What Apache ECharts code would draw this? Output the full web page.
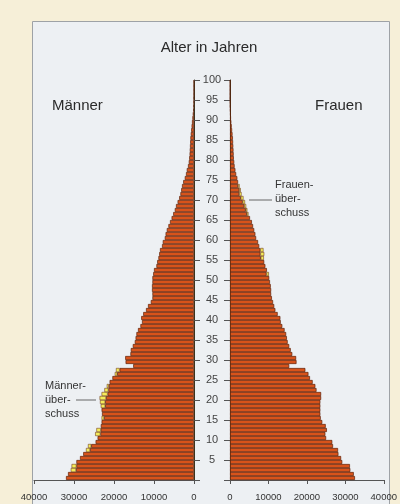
<!DOCTYPE html>
<html>
<head>
<meta charset="utf-8">
<script src="https://cdn.jsdelivr.net/npm/echarts@6/dist/echarts.min.js"></script>
<style>
html,body{margin:0;padding:0;background:#f6efd8;}
#pyramid{width:400px;height:504px;}
</style>
</head>
<body>
<div id="pyramid"></div>
<script>
// Altersjahre 0..99
var ages = [];
for (var i = 0; i < 100; i++) ages.push(String(i));

// Männer je Altersjahr (Balkenlänge gesamt)
var maenner = [
  32000,31500,30800,30600,29400,28500,27700,27000,26500,24600,
  24100,24700,24400,23300,23100,23100,23000,23100,23300,23500,
  23600,23100,22400,21800,21100,20400,19800,19500,15200,17100,
  17200,15900,15800,15300,14800,14600,14400,14000,13400,13000,
  13200,12700,12000,11500,10800,10400,10400,10500,10500,10400,
  10400,10200,10000,9400,9200,8900,8700,8500,8000,7800,
  7300,7100,6800,6400,6000,5600,5200,4800,4500,4100,
  3700,3400,3200,3000,2700,2300,2000,1800,1500,1300,
  1200,1100,1050,1000,950,900,800,700,600,500,
  400,300,200,150,100,80,50,50,50,50
];
// Frauen je Altersjahr (Balkenlänge gesamt)
var frauen = [
  32500,32200,31300,31200,29200,28900,28200,28100,26800,26600,
  25000,24800,25200,24900,24000,23600,23500,23500,23500,23500,
  23700,23700,22500,22200,21500,20800,20400,19600,15400,17300,
  17200,16200,15800,15400,15000,14800,14600,14200,13600,13200,
  13100,12400,11800,11500,11200,10900,10700,10700,10600,10400,
  10200,10100,9600,9200,8900,8800,8900,8700,7600,7300,
  6800,6600,6300,6000,5700,5200,4800,4500,4200,3900,
  3500,3000,2800,2500,2100,1900,1600,1400,1200,1100,
  1000,950,900,850,800,750,650,550,450,350,
  250,200,150,100,80,50,50,50,50,50
];
// Überschuss (gelber Teil) [Alter, Anzahl]
var maennerUeberschuss = [[2,1300],[3,1200],[7,1000],[8,800],[11,1300],[12,1100],[15,600],
  [18,1100],[19,1300],[20,1600],[21,1500],[22,1000],[23,500],[26,600],[27,900]];
var frauenUeberschuss = [[51,600],[55,800],[56,1000],[57,800],[66,400],[67,400],[68,500],
  [69,600],[70,700],[71,600],[72,400],[73,400]];

var xTicks = [0,10000,20000,30000,40000];

function split(total, surplus){
  var extra = total.map(function(){ return 0; });
  surplus.forEach(function(p){ extra[p[0]] = p[1]; });
  return {
    base: total.map(function(v,i){ return v - extra[i]; }),
    extra: extra.map(function(v){ return v > 0 ? v : '-'; })
  };
}
var m = split(maenner, maennerUeberschuss);
var f = split(frauen, frauenUeberschuss);

var font = 'Liberation Sans, Arial, sans-serif';
var orange = '#d8531a', gelb = '#f4ec5a', rand = '#5e220a';

function xAx(grid, inv){
  return {
    gridIndex: grid, type: 'value', inverse: inv, min: 0, max: xTicks[xTicks.length-1],
    interval: xTicks[1] - xTicks[0], offset: 2,
    axisLine: {show: true, lineStyle: {color: '#555', width: 1}},
    axisTick: {show: true, length: 4, lineStyle: {color: '#555'}},
    axisLabel: {fontSize: 9.5, color: '#333', fontFamily: font, margin: 10,
      formatter: function(v){ return String(v); }},
    splitLine: {show: false}
  };
}
function yVal(grid, pos, labels){
  return {
    gridIndex: grid, type: 'value', position: pos, min: 0, max: 100, interval: 5,
    axisLine: {show: true, lineStyle: {color: '#3a3520', width: 1}},
    axisTick: {show: true, length: 6, lineStyle: {color: '#555'}},
    axisLabel: {show: labels, fontSize: 11, color: '#444', fontFamily: font,
      align: 'center', margin: 18,
      formatter: function(v){ return v === 0 ? '' : String(v); }},
    splitLine: {show: false}
  };
}
function bar(name, xi, yi, data, color, bw){
  return {
    name: name, type: 'bar', stack: 's' + xi, xAxisIndex: xi, yAxisIndex: yi,
    data: data, barWidth: '100%', barCategoryGap: '0%', silent: true,
    itemStyle: {color: color, borderColor: rand, borderWidth: bw}
  };
}

var chart = echarts.init(document.getElementById('pyramid'), null, {renderer: 'canvas'});
chart.setOption({
  backgroundColor: '#f6efd8',
  animation: false,
  grid: [
    {left: 34, width: 160, top: 80, height: 400},
    {left: 230, width: 160, top: 80, height: 400}
  ],
  xAxis: [xAx(0, true), xAx(1, false)],
  yAxis: [
    {gridIndex: 0, type: 'category', data: ages, show: false},
    yVal(0, 'right', true),
    {gridIndex: 1, type: 'category', data: ages, show: false},
    yVal(1, 'left', false)
  ],
  series: [
    bar('Männer', 0, 0, m.base, orange, 0.7),
    bar('Männerüberschuss', 0, 0, m.extra, gelb, 0.5),
    bar('Frauen', 1, 2, f.base, orange, 0.7),
    bar('Frauenüberschuss', 1, 2, f.extra, gelb, 0.5)
  ],
  graphic: [
    {type: 'rect', z: -10, silent: true,
      shape: {x: 32.5, y: 21.5, width: 357, height: 500},
      style: {fill: '#edf0f3', stroke: '#9ea2a6', lineWidth: 1}},
    {type: 'text', x: 209, y: 40, silent: true,
      style: {text: 'Alter in Jahren', fill: '#2a2a2a', font: '15px ' + font, textAlign: 'center'}},
    {type: 'text', x: 52, y: 98, silent: true,
      style: {text: 'Männer', fill: '#2a2a2a', font: '15px ' + font}},
    {type: 'text', x: 315, y: 98, silent: true,
      style: {text: 'Frauen', fill: '#2a2a2a', font: '15px ' + font}},
    {type: 'text', x: 275, y: 178, silent: true,
      style: {text: 'Frauen-\nüber-\nschuss', fill: '#333', font: '11px ' + font, lineHeight: 14}},
    {type: 'line', silent: true, shape: {x1: 249, y1: 200, x2: 272, y2: 200},
      style: {stroke: '#666', lineWidth: 1}},
    {type: 'text', x: 45, y: 379, silent: true,
      style: {text: 'Männer-\nüber-\nschuss', fill: '#333', font: '11px ' + font, lineHeight: 14}},
    {type: 'line', silent: true, shape: {x1: 76, y1: 400, x2: 96, y2: 400},
      style: {stroke: '#666', lineWidth: 1}}
  ]
});
</script>
</body>
</html>
